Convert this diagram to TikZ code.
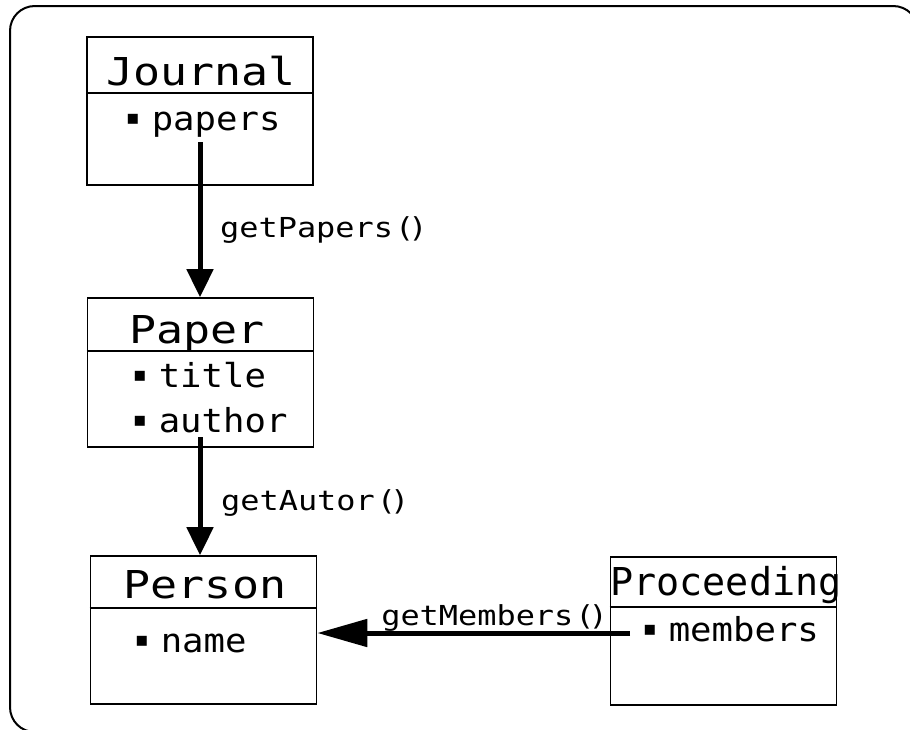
\documentclass[tikz,border=0pt]{standalone}
\usepackage{fontspec}
\usetikzlibrary{arrows.meta}
\newfontfamily\umltitle[FakeStretch=1.17]{DejaVu Sans Mono}
\newfontfamily\umlnarrow{DejaVu Sans Mono}
\newfontfamily\umlattrf[FakeStretch=1.08]{DejaVu Sans Mono}
\newfontfamily\umllbl[FakeStretch=1.16]{DejaVu Sans Mono}
\newfontfamily\umlsym{DejaVu Sans}
\newcommand\umlbul{{\umlsym\fontsize{20pt}{20pt}\selectfont\raisebox{6pt}{▪}}\kern12pt}
\newcommand\umlparens{\kern2pt(\kern-6pt)}
\begin{document}
\begin{tikzpicture}[x=1pt,y=-1pt,
  classbox/.style={draw,line width=1.6pt,minimum width=226pt,minimum height=148pt,inner sep=0pt},
  titletext/.style={anchor=base,inner sep=0pt,font=\umltitle\fontsize{38.4pt}{40pt}\selectfont},
  narrowtitle/.style={anchor=base,inner sep=0pt,font=\umlnarrow\fontsize{38.4pt}{40pt}\selectfont},
  attrtext/.style={anchor=base west,inner sep=0pt,font=\umlattrf\fontsize{33pt}{35pt}\selectfont},
  lbltext/.style={inner sep=0pt,font=\umllbl\fontsize{27.5pt}{29pt}\selectfont},
  conn/.style={line width=5pt,-{Triangle[length=28pt,width=26pt]}},
  connlong/.style={line width=5pt,-{Triangle[length=50pt,width=27pt]}},
  divider/.style={line width=1.6pt},
  frame/.style={line width=2pt}
]
\useasboundingbox (0,0) rectangle (910,729);
\clip (0,0) rectangle (910,729);
\draw[frame] (35,732) .. controls (21,732) and (10,721) .. (10,707)
  -- (10,31) .. controls (10,17) and (21,6) .. (35,6)
  -- (893,6) .. controls (907,6) and (918,17) .. (918,31);

% classes
\node[classbox] (journal) at (200,111) {};
\draw[divider] (journal.west |- 0,93) -- (journal.east |- 0,93);
\node[titletext] (jt) at (201,85) {Journal};
\node[attrtext] (jp) at (126,130) {\umlbul papers};

\node[classbox,minimum height=149pt] (paper) at (200.5,372.5) {};
\draw[divider] (paper.west |- 0,351) -- (paper.east |- 0,351);
\node[titletext] (pt) at (197,343) {Paper};
\node[attrtext] (ptitle) at (133,387) {\umlbul title};
\node[attrtext] (pauthor) at (133,432) {\umlbul author};

\node[classbox] (person) at (203.5,630) {};
\draw[divider] (person.west |- 0,608) -- (person.east |- 0,608);
\node[titletext] (pet) at (205,598) {Person};
\node[attrtext] (pname) at (135,652) {\umlbul name};

\node[classbox] (proc) at (723.5,631) {};
\draw[divider] (proc.west |- 0,607) -- (proc.east |- 0,607);
\node[narrowtitle] (prt) at (726,595) {Proceeding};
\node[attrtext] (prm) at (643,641) {\umlbul members};

% connectors
\coordinate (a1s) at (200,142);
\draw[conn] (a1s) -- (a1s |- paper.north);
\node[lbltext,anchor=base west] (l1) at (220,237) {getPapers\umlparens};

\coordinate (a2s) at (200,437);
\draw[conn] (a2s) -- (a2s |- person.north);
\node[lbltext,anchor=base west] (l2) at (221,510) {getAutor\umlparens};

\coordinate (a3s) at (630,633);
\draw[connlong] (a3s) -- (a3s -| person.east);
\node[lbltext,anchor=base east] (l3) at (608,625) {getMembers\umlparens};
\end{tikzpicture}
\end{document}
